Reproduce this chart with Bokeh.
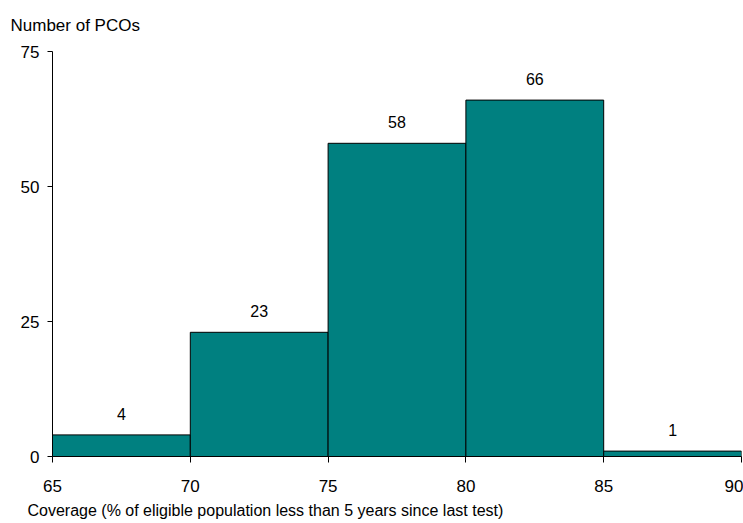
from bokeh.plotting import figure
from bokeh.models import Range1d, FixedTicker, ColumnDataSource, Title
from bokeh.core.properties import value
from bokeh.embed import file_html
from bokeh.resources import INLINE

bin_left = [65, 70, 75, 80, 85]
bin_right = [70, 75, 80, 85, 90]
counts = [4, 23, 58, 66, 1]
x_ticks = [65, 70, 75, 80, 85, 90]
y_ticks = [0, 25, 50, 75]
y_title = "Number of PCOs"
x_title = "Coverage (% of eligible population less than 5 years since last test)"

FONT = "Liberation Sans"
TEAL = "#008080"

p = figure(width=743, height=523, output_backend="svg", toolbar_location=None,
           x_range=Range1d(65, 90), y_range=Range1d(0, 75),
           min_border_left=52, min_border_right=2, min_border_top=51, min_border_bottom=66)
p.outline_line_color = None
p.xgrid.visible = False
p.ygrid.visible = False
p.background_fill_color = "white"
p.border_fill_color = "white"

src = ColumnDataSource(dict(left=bin_left, right=bin_right, top=counts,
                            mid=[(a + b) / 2 for a, b in zip(bin_left, bin_right)],
                            lab=[str(c) for c in counts]))
p.quad(left="left", right="right", top="top", bottom=0, source=src,
       fill_color=TEAL, line_color="black", line_width=1)
p.text(x="mid", y="top", text="lab", source=src, text_align="center",
       text_baseline="alphabetic", y_offset=-21, text_font_size="16px",
       text_font=value(FONT), text_color="black")

p.xaxis.ticker = FixedTicker(ticks=x_ticks)
p.yaxis.ticker = FixedTicker(ticks=y_ticks)
for ax in (p.xaxis, p.yaxis):
    ax.axis_line_color = "black"
    ax.major_tick_line_color = "black"
    ax.minor_tick_line_color = None
    ax.major_label_text_font = FONT
    ax.major_label_text_color = "black"
    ax.major_label_text_font_size = "17px"
    ax.major_tick_in = 0
p.xaxis.major_tick_out = 6
p.yaxis.major_tick_out = 5
p.xaxis.major_label_standoff = 17
p.yaxis.major_label_standoff = 8

t_top = Title(text=y_title, align="left", offset=-42, text_font=FONT,
              text_font_size="17px", text_font_style="normal", text_color="black",
              standoff=29, vertical_align="top")
p.add_layout(t_top, "above")
t_bot = Title(text=x_title, align="left", offset=-25, text_font=FONT,
              text_font_size="16px", text_font_style="normal", text_color="black",
              standoff=10)
p.add_layout(t_bot, "below")

open("out.html", "w").write(file_html(p, INLINE))
